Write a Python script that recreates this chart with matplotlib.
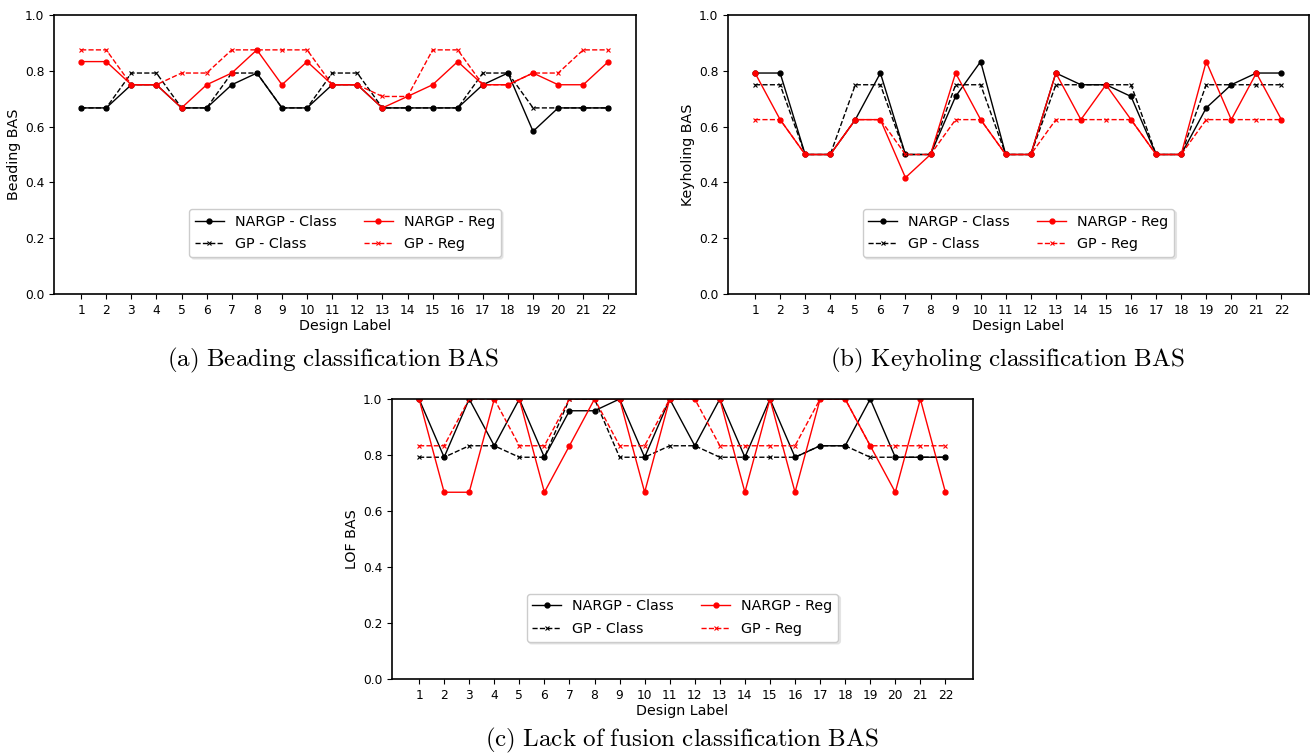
import matplotlib
matplotlib.use("Agg")
import matplotlib.pyplot as plt

plt.rcParams['mathtext.fontset'] = 'cm'

labels = list(range(1, 23))

# (a) Beading
bead_nargp_class = [0.667, 0.667, 0.75, 0.75, 0.667, 0.667, 0.75, 0.792, 0.667, 0.667, 0.75,
                    0.75, 0.667, 0.667, 0.667, 0.667, 0.75, 0.792, 0.583, 0.667, 0.667, 0.667]
bead_gp_class = [0.667, 0.667, 0.792, 0.792, 0.667, 0.667, 0.792, 0.792, 0.667, 0.667, 0.792,
                 0.792, 0.667, 0.667, 0.667, 0.667, 0.792, 0.792, 0.667, 0.667, 0.667, 0.667]
bead_nargp_reg = [0.833, 0.833, 0.75, 0.75, 0.667, 0.75, 0.792, 0.875, 0.75, 0.833, 0.75,
                  0.75, 0.667, 0.708, 0.75, 0.833, 0.75, 0.75, 0.792, 0.75, 0.75, 0.833]
bead_gp_reg = [0.875, 0.875, 0.75, 0.75, 0.792, 0.792, 0.875, 0.875, 0.875, 0.875, 0.75,
               0.75, 0.708, 0.708, 0.875, 0.875, 0.75, 0.75, 0.792, 0.792, 0.875, 0.875]

# (b) Keyholing
key_nargp_class = [0.792, 0.792, 0.5, 0.5, 0.625, 0.792, 0.5, 0.5, 0.708, 0.833, 0.5,
                   0.5, 0.792, 0.75, 0.75, 0.708, 0.5, 0.5, 0.667, 0.75, 0.792, 0.792]
key_gp_class = [0.75, 0.75, 0.5, 0.5, 0.75, 0.75, 0.5, 0.5, 0.75, 0.75, 0.5,
                0.5, 0.75, 0.75, 0.75, 0.75, 0.5, 0.5, 0.75, 0.75, 0.75, 0.75]
key_nargp_reg = [0.792, 0.625, 0.5, 0.5, 0.625, 0.625, 0.417, 0.5, 0.792, 0.625, 0.5,
                 0.5, 0.792, 0.625, 0.75, 0.625, 0.5, 0.5, 0.833, 0.625, 0.792, 0.625]
key_gp_reg = [0.625, 0.625, 0.5, 0.5, 0.625, 0.625, 0.5, 0.5, 0.625, 0.625, 0.5,
              0.5, 0.625, 0.625, 0.625, 0.625, 0.5, 0.5, 0.625, 0.625, 0.625, 0.625]

# (c) Lack of fusion
lof_nargp_class = [1.0, 0.792, 1.0, 0.833, 1.0, 0.792, 0.958, 0.958, 1.0, 0.792, 1.0,
                   0.833, 1.0, 0.792, 1.0, 0.792, 0.833, 0.833, 1.0, 0.792, 0.792, 0.792]
lof_gp_class = [0.792, 0.792, 0.833, 0.833, 0.792, 0.792, 1.0, 1.0, 0.792, 0.792, 0.833,
                0.833, 0.792, 0.792, 0.792, 0.792, 0.833, 0.833, 0.792, 0.792, 0.792, 0.792]
lof_nargp_reg = [1.0, 0.667, 0.667, 1.0, 1.0, 0.667, 0.833, 1.0, 1.0, 0.667, 1.0,
                 1.0, 1.0, 0.667, 1.0, 0.667, 1.0, 1.0, 0.833, 0.667, 1.0, 0.667]
lof_gp_reg = [0.833, 0.833, 1.0, 1.0, 0.833, 0.833, 1.0, 1.0, 0.833, 0.833, 1.0,
              1.0, 0.833, 0.833, 0.833, 0.833, 1.0, 1.0, 0.833, 0.833, 0.833, 0.833]

W, H = 1311, 754
fig = plt.figure(figsize=(W / 100, H / 100), dpi=100)


def box(l, r, t, b):
    return [l / W, (H - b) / H, (r - l) / W, (b - t) / H]


def panel(rect, nc, gc, nr, gr, ylabel):
    ax = fig.add_axes(rect)
    ax.plot(labels, nc, '-o', color='black', lw=1, ms=3.5, label='NARGP - Class')
    ax.plot(labels, gc, '--x', color='black', lw=1, ms=3.5, mew=0.8, label='GP - Class')
    ax.plot(labels, nr, '-o', color='red', lw=1, ms=3.5, label='NARGP - Reg')
    ax.plot(labels, gr, '--x', color='red', lw=1, ms=3.5, mew=0.8, label='GP - Reg')
    ax.set_xlim(-0.08, 23.1)
    ax.set_ylim(0, 1.0)
    ax.set_xticks(labels)
    ax.tick_params(labelsize=8.8)
    ax.set_xlabel('Design Label', fontsize=10.3, labelpad=2)
    ax.set_ylabel(ylabel, fontsize=10.3, labelpad=3)
    for s in ax.spines.values():
        s.set_linewidth(1.2)
    ax.legend(ncol=2, loc='lower center', bbox_to_anchor=(0.5, 0.133), borderaxespad=0,
              fontsize=10.3, columnspacing=1.9, labelspacing=0.6,
              framealpha=1, edgecolor='#cccccc',
              shadow={'color': '0.85', 'alpha': 0.6, 'ox': 1.5, 'oy': -1.5})
    return ax


panel(box(54, 636, 15, 294), bead_nargp_class, bead_gp_class, bead_nargp_reg, bead_gp_reg, 'Beading BAS')
panel(box(728, 1309, 15, 294), key_nargp_class, key_gp_class, key_nargp_reg, key_gp_reg, 'Keyholing BAS')
panel(box(392, 973, 399, 679), lof_nargp_class, lof_gp_class, lof_nargp_reg, lof_gp_reg, 'LOF BAS')

fig.text(333 / W, 1 - 360 / H, r'$\mathrm{(a)\ Beading\ classification\ BAS}$',
         ha='center', va='center', fontsize=18)
fig.text(1007 / W, 1 - 360 / H, r'$\mathrm{(b)\ Keyholing\ classification\ BAS}$',
         ha='center', va='center', fontsize=18)
fig.text(682 / W, 1 - 740 / H, r'$\mathrm{(c)\ Lack\ of\ fusion\ classification\ BAS}$',
         ha='center', va='center', fontsize=18)

fig.savefig('out.png', dpi=100)
